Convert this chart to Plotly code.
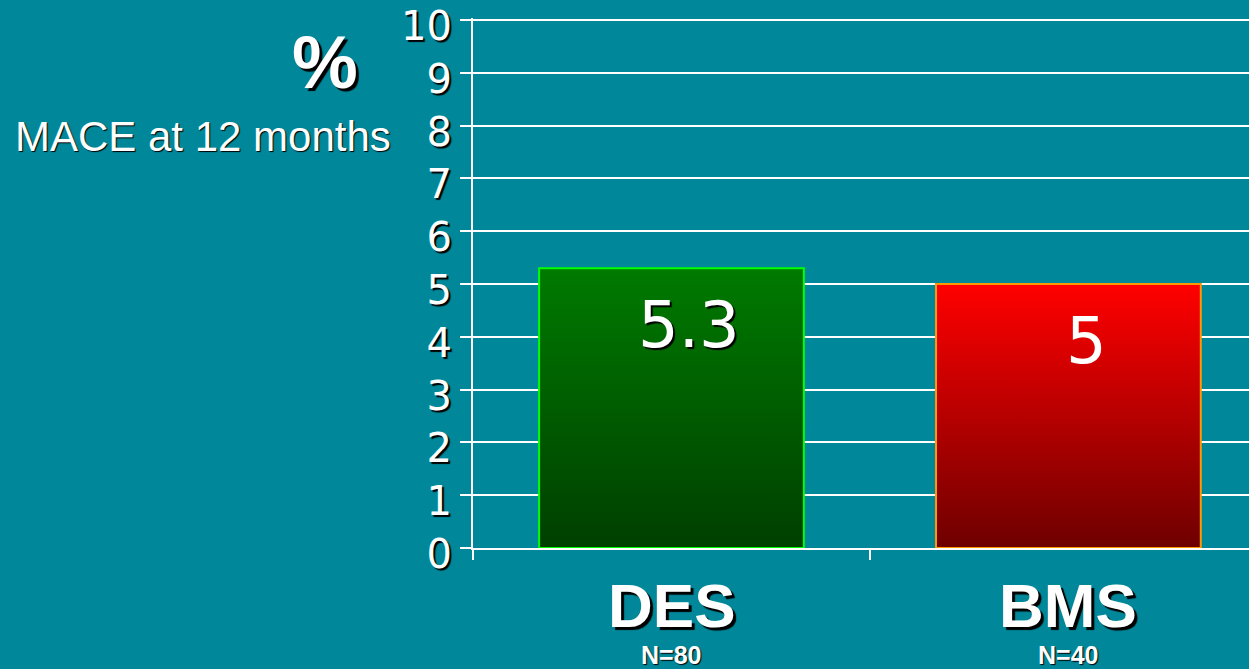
import plotly.graph_objects as go

categories = ["DES", "BMS"]
sample_sizes = ["N=80", "N=40"]
values = [5.3, 5.0]
value_labels = ["5.3", "5"]
tick_values = list(range(0, 11))

BG = "#00889a"
top_colors = ["#007a00", "#ff0000"]
bottom_colors = ["#003f00", "#6e0000"]
edge_colors = ["#00ff00", "#ff9900"]
bar_width = 0.667
SHADOW = "2px 2px 1px #000000"

W, H = 1249, 669
L, R, T, B = 473, 0, 18, 121
pw, ph = W - L - R, H - T - B
y_top = 10 + 2 * 10 / 528  # keeps the 10 gridline 2px below the plot edge

fig = go.Figure()

for i, (cat, v) in enumerate(zip(categories, values)):
    x0, x1 = i - bar_width / 2, i + bar_width / 2
    fig.add_trace(go.Scatter(
        x=[x0, x0, x1, x1, x0],
        y=[0, v, v, 0, 0],
        mode="lines",
        fill="toself",
        fillgradient=dict(type="vertical",
                          colorscale=[[0, bottom_colors[i]], [1, top_colors[i]]]),
        line=dict(color=edge_colors[i], width=2),
        hoverinfo="skip",
        showlegend=False,
        name=cat,
    ))
    fig.add_annotation(
        x=i, y=v, xref="x", yref="y", text=value_labels[i],
        showarrow=False, xshift=18, yshift=-57, yanchor="middle",
        font=dict(family="DejaVu Sans", size=64, color="white",
                  shadow=SHADOW if i == 0 else "none"),
    )
    fig.add_annotation(
        x=i, y=0, xref="x", yref="paper", text="<b>%s</b>" % cat,
        showarrow=False, yshift=-57, yanchor="middle",
        font=dict(family="Liberation Sans, Arial", size=62, color="white",
                  shadow="3px 3px 1px #000"),
    )
    fig.add_annotation(
        x=i, y=0, xref="x", yref="paper", text="<b>%s</b>" % sample_sizes[i],
        showarrow=False, yshift=-107, yanchor="middle",
        font=dict(family="Liberation Sans, Arial", size=25, color="white",
                  shadow="1px 1px 1px #000"),
    )

fig.add_annotation(
    x=(325 - L) / pw, y=(H - B - 63) / ph, xref="paper", yref="paper", text="<b>%</b>",
    showarrow=False, xanchor="center", yanchor="middle",
    font=dict(family="Liberation Sans, Arial", size=74, color="white",
              shadow="3px 3px 1px #000"),
)
fig.add_annotation(
    x=(203 - L) / pw, y=(H - B - 137) / ph, xref="paper", yref="paper",
    text="MACE at 12 months",
    showarrow=False, xanchor="center", yanchor="middle",
    font=dict(family="Liberation Sans, Arial", size=42, color="white",
              shadow="1px 1px 1px #000"),
)

fig.update_layout(
    width=W, height=H,
    margin=dict(l=L, r=R, t=T, b=B, pad=0, autoexpand=False),
    paper_bgcolor=BG, plot_bgcolor=BG,
    showlegend=False,
    xaxis=dict(
        range=[-0.5, 1.455], showgrid=False, zeroline=False,
        tickvals=[-0.5, 0.5, 1.5], ticktext=["", "", ""],
        ticks="outside", ticklen=10, tickwidth=2, tickcolor="white",
        showline=True, linecolor="white", linewidth=2,
        fixedrange=True, automargin=False,
    ),
    yaxis=dict(
        range=[0, y_top], tickvals=tick_values,
        ticks="outside", ticklen=11, tickwidth=2, tickcolor="white",
        showgrid=True, gridcolor="white", gridwidth=2,
        zeroline=False, showline=True, linecolor="white", linewidth=2,
        tickfont=dict(family="DejaVu Sans", size=40, color="white", shadow=SHADOW),
        ticklabeloverflow="allow", ticklabelshift=6,
        fixedrange=True, automargin=False,
    ),
)

fig.write_html("out.html", config={"displayModeBar": False},
               post_script="document.body.style.margin='0';document.body.style.overflow='hidden';")
